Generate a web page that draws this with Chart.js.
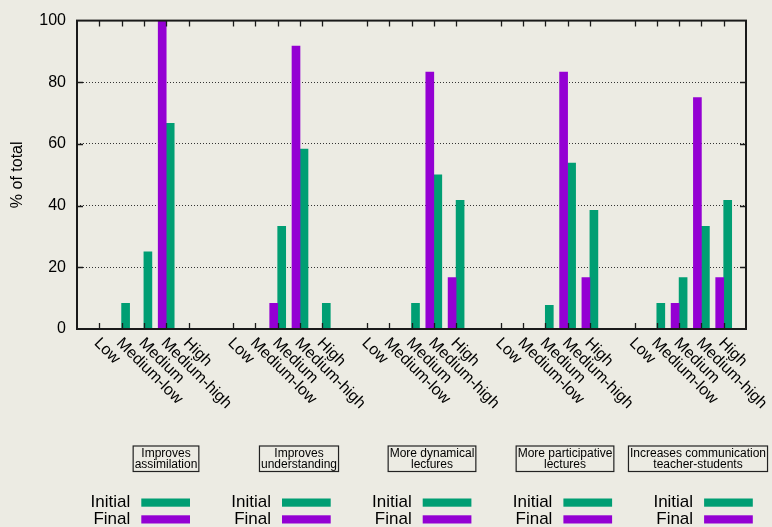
<!DOCTYPE html>
<html>
<head>
<meta charset="utf-8">
<script src="https://cdn.jsdelivr.net/npm/chart.js@4.4.1/dist/chart.umd.min.js"></script>
<style>
  html, body { margin: 0; padding: 0; background: #ecebe3; }
  #wrap { width: 772px; height: 527px; position: relative; }
</style>
</head>
<body>
<div id="wrap"><canvas id="chart" width="772" height="527"></canvas></div>
<script>
const levels = ['Low', 'Medium-low', 'Medium', 'Medium-high', 'High'];
const aspects = [
  ['Improves', 'assimilation'],
  ['Improves', 'understanding'],
  ['More dynamical', 'lectures'],
  ['More participative', 'lectures'],
  ['Increases communication', 'teacher-students']
];
const seriesNames = ['Initial', 'Final'];

// % of total, Low .. High
const initialAssimilation = [0, 8.3, 25, 66.7, 0];
const finalAssimilation = [0, 0, 0, 100, 0];
const initialUnderstanding = [0, 0, 33.3, 58.3, 8.3];
const finalUnderstanding = [0, 0, 8.3, 91.7, 0];
const initialDynamical = [0, 0, 8.3, 50, 41.7];
const finalDynamical = [0, 0, 0, 83.3, 16.7];
const initialParticipative = [0, 0, 7.7, 53.8, 38.5];
const finalParticipative = [0, 0, 0, 83.3, 16.7];
const initialCommunication = [0, 8.3, 16.7, 33.3, 41.7];
const finalCommunication = [0, 0, 8.3, 75, 16.7];

const yTicks = [0, 20, 40, 60, 80, 100];

const initialGroups = [initialAssimilation, initialUnderstanding, initialDynamical, initialParticipative, initialCommunication];
const finalGroups = [finalAssimilation, finalUnderstanding, finalDynamical, finalParticipative, finalCommunication];

const GREEN = '#009e73';
const PURPLE = '#9400d3';
const FONT = '"Liberation Sans", Arial, Helvetica, sans-serif';

// one empty slot before each group and one at the end
const labels = [''];
const initialData = [null];
const finalData = [null];
initialGroups.forEach((g, i) => {
  levels.forEach((lv, j) => {
    labels.push(lv);
    initialData.push(g[j]);
    finalData.push(finalGroups[i][j]);
  });
  labels.push('');
  initialData.push(null);
  finalData.push(null);
});

const decor = {
  id: 'decor',
  afterDraw(chart) {
    const { ctx, chartArea: a, scales: { x, y } } = chart;
    ctx.save();

    // frame
    ctx.strokeStyle = '#1a1a1a';
    ctx.lineWidth = 2;
    ctx.strokeRect(a.left, a.top, a.right - a.left, a.bottom - a.top);

    // inward ticks (mirrored)
    ctx.lineWidth = 1.3;
    ctx.beginPath();
    labels.forEach((lb, i) => {
      if (!lb) return;
      const px = Math.round(x.getPixelForValue(i)) + 0.5;
      ctx.moveTo(px, a.bottom); ctx.lineTo(px, a.bottom - 6);
      ctx.moveTo(px, a.top); ctx.lineTo(px, a.top + 6);
    });
    yTicks.forEach(v => {
      if (v === 0 || v === 100) return;
      const py = Math.round(y.getPixelForValue(v)) + 0.5;
      ctx.moveTo(a.left, py); ctx.lineTo(a.left + 6, py);
      ctx.moveTo(a.right, py); ctx.lineTo(a.right - 6, py);
    });
    ctx.stroke();

    // rotated category labels
    ctx.fillStyle = '#000';
    ctx.font = '16px ' + FONT;
    ctx.textAlign = 'left';
    ctx.textBaseline = 'top';
    labels.forEach((lb, i) => {
      if (!lb) return;
      ctx.save();
      ctx.translate(x.getPixelForValue(i) + 3, a.bottom + 6);
      ctx.rotate(Math.PI / 4);
      ctx.fillText(lb, 0, 0);
      ctx.restore();
    });

    // aspect boxes
    ctx.font = '12px ' + FONT;
    ctx.textAlign = 'center';
    ctx.textBaseline = 'middle';
    aspects.forEach((lines, i) => {
      const cx = 166 + i * 133;
      const w = Math.max(...lines.map(t => ctx.measureText(t).width)) + 3;
      ctx.strokeStyle = '#222';
      ctx.lineWidth = 1.2;
      ctx.strokeRect(cx - w / 2, 446, w, 25.5);
      ctx.fillText(lines[0], cx, 453.5);
      ctx.fillText(lines[1], cx, 465);
    });

    // keys
    ctx.font = '17px ' + FONT;
    ctx.textAlign = 'right';
    aspects.forEach((lines, i) => {
      const sx = 141.3 + i * 140.7;
      ctx.fillStyle = '#000';
      ctx.fillText(seriesNames[0], sx - 11, 502);
      ctx.fillText(seriesNames[1], sx - 11, 519.5);
      ctx.fillStyle = GREEN;
      ctx.fillRect(sx, 498.5, 48.7, 8.2);
      ctx.fillStyle = PURPLE;
      ctx.fillRect(sx, 515.3, 48.7, 8.2);
    });

    ctx.restore();
  }
};

new Chart(document.getElementById('chart'), {
  type: 'bar',
  data: {
    labels: labels,
    datasets: [
      { label: seriesNames[1], data: finalData, backgroundColor: PURPLE },
      { label: seriesNames[0], data: initialData, backgroundColor: GREEN }
    ]
  },
  options: {
    responsive: false,
    animation: false,
    devicePixelRatio: 1,
    layout: { padding: { top: 15, right: 26, bottom: 0, left: 0 } },
    datasets: { bar: { barThickness: 8, borderWidth: 0 } },
    plugins: { legend: { display: false }, tooltip: { enabled: false } },
    scales: {
      x: {
        type: 'category',
        offset: false,
        grid: { display: false },
        border: { display: false },
        ticks: { display: false },
        afterFit(s) { s.height = 198; }
      },
      y: {
        min: 0,
        max: 100,
        afterBuildTicks(s) { s.ticks = yTicks.map(v => ({ value: v })); },
        ticks: { color: '#000', padding: 11, font: { size: 16, family: FONT } },
        grid: {
          drawTicks: false,
          lineWidth: 1,
          color: c => (c.tick && (c.tick.value === 0 || c.tick.value === 100)) ? 'rgba(0,0,0,0)' : '#333'
        },
        border: { display: false, dash: [1, 2] },
        title: {
          display: true,
          text: '% of total',
          color: '#000',
          font: { size: 16, family: FONT },
          padding: { top: 8, bottom: 0 }
        },
        afterFit(s) { s.width = 77; }
      }
    }
  },
  plugins: [decor]
});
</script>
</body>
</html>
